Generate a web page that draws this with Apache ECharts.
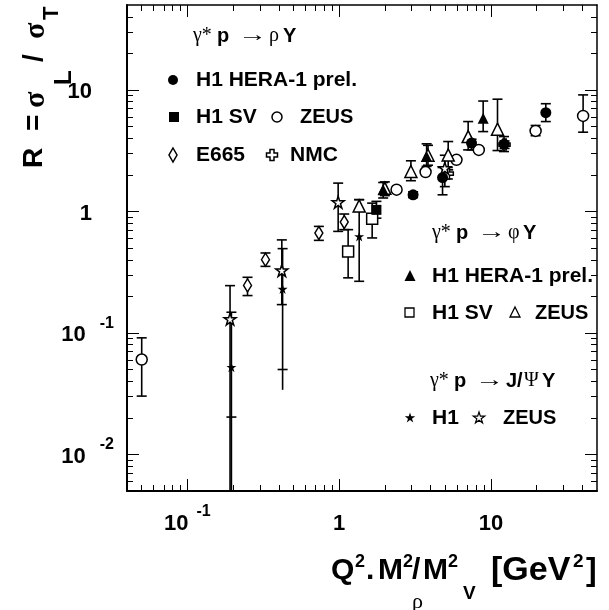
<!DOCTYPE html>
<html><head><meta charset="utf-8">
<script src="https://cdn.jsdelivr.net/npm/echarts@6/dist/echarts.min.js"></script>
<style>html,body{margin:0;padding:0;background:#fff}#c{width:609px;height:610px}</style>
</head><body><div id="c"></div>
<script>
// ---------------- axis ticks ----------------
const xMajor = [0.1, 1, 10];
const xMinor = [0.05,0.06,0.07,0.08,0.09,0.2,0.3,0.4,0.5,0.6,0.7,0.8,0.9,2,3,4,5,6,7,8,9,20,30,40];
const yMajor = [0.01, 0.1, 1, 10];
const yMinor = [0.006,0.007,0.008,0.009,0.02,0.03,0.04,0.05,0.06,0.07,0.08,0.09,
                0.2,0.3,0.4,0.5,0.6,0.7,0.8,0.9,2,3,4,5,6,7,8,9,20,30,40];

// ---------------- data: gamma* p -> rho Y ----------------
const rhoH1_x  = [3.07, 4.8, 7.45, 12.2, 23.0];
const rhoH1_y  = [1.37, 1.90, 3.65, 3.58, 6.5];
const rhoH1_lo = [1.30, 1.37, 3.21, 3.11, 5.49];
const rhoH1_hi = [1.45, 2.30, 3.93, 4.13, 7.7];

const rhoSV_x  = [1.76];
const rhoSV_y  = [1.03];
const rhoSV_lo = [0.88];
const rhoSV_hi = [1.21];

const rhoZEUS_x  = [0.05, 2.39, 3.71, 5.93, 8.32, 19.7, 40.5];
const rhoZEUS_y  = [0.0604, 1.51, 2.11, 2.66, 3.21, 4.6, 6.11];
const rhoZEUS_lo = [0.0302, 1.45, 2.02, 2.55, 3.10, 4.2, 4.49];
const rhoZEUS_hi = [0.0911, 1.58, 2.20, 2.78, 3.33, 5.1, 9.1];

const e665_x  = [0.249, 0.327, 0.735, 1.08];
const e665_y  = [0.246, 0.401, 0.664, 0.818];
const e665_lo = [0.203, 0.353, 0.578, 0.708];
const e665_hi = [0.287, 0.455, 0.753, 0.952];

const nmc_x  = [5.2, 12.3];
const nmc_y  = [2.05, 3.55];
const nmc_lo = [1.85, 3.3];
const nmc_hi = [2.3, 3.8];

// ---------------- data: gamma* p -> phi Y ----------------
const phiH1_x  = [1.95, 3.77, 8.89];
const phiH1_y  = [1.51, 2.83, 5.85];
const phiH1_lo = [1.29, 2.35, 4.54];
const phiH1_hi = [1.73, 3.60, 8.1];

const phiSV_x  = [1.146, 1.65];
const phiSV_y  = [0.469, 0.871];
const phiSV_lo = [0.284, 0.605];
const phiSV_hi = [0.708, 1.17];

const phiZEUS_x  = [1.355, 2.0, 2.97, 3.85, 5.23, 7.08, 11.05];
const phiZEUS_y  = [1.11, 1.55, 2.13, 2.9, 2.92, 4.13, 4.75];
const phiZEUS_lo = [1.0, 1.35, 1.79, 2.4, 2.2, 3.21, 3.17];
const phiZEUS_hi = [1.25, 1.75, 2.61, 3.5, 3.76, 5.49, 8.39];

// ---------------- data: gamma* p -> J/Psi Y ----------------
const jpsiH1_x     = [0.195, 0.424, 1.355];
const jpsiH1_y     = [0.0523, 0.230, 0.623];
const jpsiH1_lo    = [0.001, 0.034, 0.266];
const jpsiH1_hi    = [0.148, 0.494, 1.25];
const jpsiH1_capLo = [0.0203, 0.05, 0.266];

const jpsiZEUS_x     = [0.191, 0.419, 0.985, 4.97];
const jpsiZEUS_y     = [0.130, 0.327, 1.19, 2.27];
const jpsiZEUS_lo    = [0.001, 0.171, 0.685, 1.6];
const jpsiZEUS_hi    = [0.245, 0.583, 1.71, 2.9];
const jpsiZEUS_capLo = [0, 0.171, 0.685, 1.6];

// ---------------- helpers ----------------
const SANS = "'Liberation Sans', Arial, Helvetica, sans-serif";
const SERIF = "'Liberation Serif', 'DejaVu Serif', serif";
const STAR = 'path://M50,2 L61.23,36.55 L97.55,36.55 L68.16,57.9 L79.39,92.45 L50,71.1 L20.61,92.45 L31.84,57.9 L2.45,36.55 L38.77,36.55 Z';
const CROSS = 'path://M35,0 L65,0 L65,35 L100,35 L100,65 L65,65 L65,100 L35,100 L35,65 L0,65 L0,35 L35,35 Z';

function pts(xs, ys) { return xs.map((x, i) => [x, ys[i]]); }
function errs(xs, lo, hi, capLo, capHi) {
  return xs.map((x, i) => [x, lo[i], hi[i], capLo ? capLo[i] : lo[i], capHi ? capHi[i] : hi[i]]);
}
function errRender(params, api) {
  const x = api.value(0), lo = api.value(1), hi = api.value(2), cl = api.value(3), ch = api.value(4);
  const a = api.coord([x, lo]), b = api.coord([x, hi]);
  const st = { stroke: '#000', lineWidth: 1.6 };
  const kids = [{ type: 'line', shape: { x1: a[0], y1: a[1], x2: b[0], y2: b[1] }, style: st }];
  [cl, ch].forEach(v => {
    if (v > 0) {
      const p = api.coord([x, v]);
      kids.push({ type: 'line', shape: { x1: p[0] - 5, y1: p[1], x2: p[0] + 5, y2: p[1] }, style: st });
    }
  });
  return { type: 'group', children: kids };
}
function errSeries(data) {
  return { type: 'custom', renderItem: errRender, data: data, clip: true, z: 1,
           encode: { x: 0, y: [1, 2] }, silent: true };
}
function scat(name, data, symbol, size, filled) {
  return { name: name, type: 'scatter', data: data, symbol: symbol, symbolSize: size, z: 3,
           itemStyle: { color: filled ? '#000' : '#fff', borderColor: '#000', borderWidth: filled ? 0 : 1.5, opacity: 1 },
           silent: true };
}

// ---------------- axes ----------------
function xAx(pos, vals, len, lw, label) {
  return {
    type: 'log', logBase: 10, min: 0.04, max: 50, position: pos,
    axisLine: { show: lw > 0, onZero: false, lineStyle: { color: '#000', width: lw } },
    axisTick: { show: true, inside: true, length: len, customValues: vals, lineStyle: { color: '#000', width: 1 } },
    splitLine: { show: false }, minorTick: { show: false },
    axisLabel: label ? {
      show: true, margin: 13, customValues: [0.1, 1, 10],
      formatter: function (v) {
        const e = Math.round(Math.log10(v));
        if (e === 0) return '{b|1}';
        if (e === 1) return '{b|10}';
        return '{b|10}{s|' + e + '}';
      },
      rich: {
        b: { fontFamily: SANS, fontWeight: 'bold', fontSize: 22, color: '#000', lineHeight: 40 },
        s: { fontFamily: SANS, fontWeight: 'bold', fontSize: 16, color: '#000', lineHeight: 8, verticalAlign: 'top', padding: [0, 0, 0, 8] }
      }
    } : { show: false }
  };
}
function yAx(pos, vals, len, lw, label) {
  return {
    type: 'log', logBase: 10, min: 0.005, max: 50, position: pos,
    axisLine: { show: lw > 0, onZero: false, lineStyle: { color: '#000', width: lw } },
    axisTick: { show: true, inside: true, length: len, customValues: vals, lineStyle: { color: '#000', width: 1 } },
    splitLine: { show: false }, minorTick: { show: false },
    axisLabel: label ? {
      show: true, margin: 13, customValues: [0.01, 0.1, 1, 10], align: 'right',
      padding: [5, 0, 0, 0],
      formatter: function (v) {
        const e = Math.round(Math.log10(v));
        if (e === 0) return '{b|1}{sp| }';
        if (e === 1) return '{b|10}{sp| }';
        return '{b|10}{s|' + e + '}';
      },
      rich: {
        b: { fontFamily: SANS, fontWeight: 'bold', fontSize: 22, color: '#000', lineHeight: 40 },
        s: { fontFamily: SANS, fontWeight: 'bold', fontSize: 16, color: '#000', lineHeight: 18, verticalAlign: 'top', padding: [0, 0, 0, 14] },
        sp: { fontSize: 10, width: 22 }
      }
    } : { show: false }
  };
}

// ---------------- legend / titles (graphic) ----------------
function starPts(cx, cy, R) {
  const p = [];
  for (let k = 0; k < 10; k++) {
    const r = k % 2 ? R * 0.382 : R;
    const a = -Math.PI / 2 + k * Math.PI / 5;
    p.push([cx + r * Math.cos(a), cy + r * Math.sin(a)]);
  }
  return p;
}
function crossPts(cx, cy, h, w) {
  return [[cx-w,cy-h],[cx+w,cy-h],[cx+w,cy-w],[cx+h,cy-w],[cx+h,cy+w],[cx+w,cy+w],[cx+w,cy+h],
          [cx-w,cy+h],[cx-w,cy+w],[cx-h,cy+w],[cx-h,cy-w],[cx-w,cy-w]];
}
const fill = { fill: '#000' };
const open = { fill: '#fff', stroke: '#000', lineWidth: 1.5 };
function txt(x, y, s, size, bold, fam, sx) {
  const el = { type: 'text', x: x, y: y, style: { text: s, font: (bold ? 'bold ' : '') + size + 'px ' + (fam || SANS), fill: '#000', align: 'left', verticalAlign: 'middle' }, z: 10 };
  if (sx) el.scaleX = sx;
  return el;
}
// header "γ* p → X Y" with pieces positioned from the left edge x0
function header(x0, y, pieces) {
  return pieces.map(p => txt(x0 + p[0], y, p[1], p[2], p[3], p[4], p[5]));
}
const graphics = [].concat(
  // rho block
  header(193, 36, [[0, 'γ*', 20, false, SERIF], [24, 'p', 20, true], [45, '→', 20, false, SERIF, 1.45], [76, 'ρ', 20, false, SERIF], [90, 'Y', 20, true]]),
  [
  { type: 'circle', shape: { cx: 173, cy: 80, r: 5 }, style: fill, z: 10 },
  txt(196, 80, 'H1 HERA-1 prel.', 21, true),
  { type: 'rect', shape: { x: 169, y: 112, width: 10, height: 10 }, style: fill, z: 10 },
  txt(196, 117, 'H1 SV', 21, true),
  { type: 'circle', shape: { cx: 277, cy: 117, r: 5 }, style: open, z: 10 },
  txt(300, 117, 'ZEUS', 20, true),
  { type: 'polygon', shape: { points: [[173,148],[177,155],[173,162],[169,155]] }, style: open, z: 10 },
  txt(196, 155, 'E665', 21, true),
  { type: 'polygon', shape: { points: crossPts(272, 155, 5.5, 2) }, style: open, z: 10 },
  txt(290, 155, 'NMC', 21, true)
  ],
  // phi block
  header(432, 233, [[0, 'γ*', 20, false, SERIF], [24, 'p', 20, true], [45, '→', 20, false, SERIF, 1.45], [76, 'φ', 20, false, SERIF], [91, 'Y', 20, true]]),
  [
  { type: 'polygon', shape: { points: [[410,270],[415.5,281],[404.5,281]] }, style: fill, z: 10 },
  txt(432, 276, 'H1 HERA-1 prel.', 21, true),
  { type: 'rect', shape: { x: 405, y: 308, width: 9, height: 9 }, style: { fill: '#fff', stroke: '#000', lineWidth: 1.3 }, z: 10 },
  txt(432, 313, 'H1 SV', 21, true),
  { type: 'polygon', shape: { points: [[515,307],[520,317],[510,317]] }, style: { fill: '#fff', stroke: '#000', lineWidth: 1.3 }, z: 10 },
  txt(535, 313, 'ZEUS', 20, true)
  ],
  // J/psi block
  header(430, 381, [[0, 'γ*', 20, false, SERIF], [24, 'p', 20, true], [45, '→', 20, false, SERIF, 1.45], [76, 'J/', 20, true], [94, 'Ψ', 20, false, SERIF], [112, 'Y', 20, true]]),
  [
  { type: 'polygon', shape: { points: starPts(410, 418, 5.5) }, style: fill, z: 10 },
  txt(432, 418, 'H1', 21, true),
  { type: 'polygon', shape: { points: starPts(479, 418, 6) }, style: { fill: '#fff', stroke: '#000', lineWidth: 1.2 }, z: 10 },
  txt(503, 418, 'ZEUS', 20, true),
  // x-axis title
  txt(331, 571, 'Q', 30, true), txt(355, 562, '2', 18, true), txt(366, 571, '.', 30, true),
  txt(378, 571, 'M', 30, true), txt(403, 562, '2', 18, true), txt(412, 571, '/', 30, true),
  txt(423, 571, 'M', 30, true), txt(448, 562, '2', 18, true),
  txt(491, 571, '[GeV', 34, true), txt(573, 562, '2', 19, true), txt(586, 571, ']', 32, true),
  txt(412, 602, 'ρ', 22, false, SERIF), txt(463, 594, 'V', 19, true),
  // y-axis title (rotated)
  { type: 'group', x: 34, y: 168, rotation: Math.PI / 2, z: 10, children: [
    txt(0, 0, 'R', 28, true),
    txt(37, 0, '=', 28, true),
    txt(60, 2, 'σ', 30, true, SERIF),
    txt(83, 30, 'L', 24, true),
    txt(106, 0, '/', 28, true),
    txt(129, 2, 'σ', 30, true, SERIF),
    txt(148, 18, 'T', 22, true)
  ] }
  ]
);

const option = {
  animation: false,
  backgroundColor: '#fff',
  grid: { left: 127, right: 12, top: 5, bottom: 119, containLabel: false, outerBoundsMode: 'none', show: false },
  xAxis: [
    xAx('bottom', xMajor, 12, 2, true),
    xAx('bottom', xMinor, 6, 0, false),
    xAx('top', xMajor, 12, 1.5, false),
    xAx('top', xMinor, 6, 0, false)
  ],
  yAxis: [
    yAx('left', yMajor, 12, 2, true),
    yAx('left', yMinor, 6, 0, false),
    yAx('right', yMajor, 12, 1.5, false),
    yAx('right', yMinor, 6, 0, false)
  ],
  series: [
    errSeries(errs(rhoH1_x, rhoH1_lo, rhoH1_hi)),
    errSeries(errs(rhoSV_x, rhoSV_lo, rhoSV_hi)),
    errSeries(errs(rhoZEUS_x, rhoZEUS_lo, rhoZEUS_hi)),
    errSeries(errs(e665_x, e665_lo, e665_hi)),
    errSeries(errs(nmc_x, nmc_lo, nmc_hi)),
    errSeries(errs(phiH1_x, phiH1_lo, phiH1_hi)),
    errSeries(errs(phiSV_x, phiSV_lo, phiSV_hi)),
    errSeries(errs(phiZEUS_x, phiZEUS_lo, phiZEUS_hi)),
    errSeries(errs(jpsiH1_x, jpsiH1_lo, jpsiH1_hi, jpsiH1_capLo)),
    errSeries(errs(jpsiZEUS_x, jpsiZEUS_lo, jpsiZEUS_hi, jpsiZEUS_capLo)),
    scat('NMC', pts(nmc_x, nmc_y), CROSS, 11, false),
    scat('rho ZEUS', pts(rhoZEUS_x, rhoZEUS_y), 'circle', 11, false),
    scat('E665', pts(e665_x, e665_y), 'diamond', [8, 13], false),
    scat('phi SV', pts(phiSV_x, phiSV_y), 'rect', 11, false),
    scat('phi ZEUS', pts(phiZEUS_x, phiZEUS_y), 'triangle', 12, false),
    scat('J/psi ZEUS', pts(jpsiZEUS_x, jpsiZEUS_y), STAR, 12, false),
    scat('rho H1', pts(rhoH1_x, rhoH1_y), 'circle', 11, true),
    scat('rho SV', pts(rhoSV_x, rhoSV_y), 'rect', 10, true),
    scat('phi H1', pts(phiH1_x, phiH1_y), 'triangle', 11, true),
    scat('J/psi H1', pts(jpsiH1_x, jpsiH1_y), STAR, 10, true)
  ],
  graphic: graphics
};
const chart = echarts.init(document.getElementById('c'), null, { renderer: 'canvas' });
chart.setOption(option);
</script>
</body></html>
